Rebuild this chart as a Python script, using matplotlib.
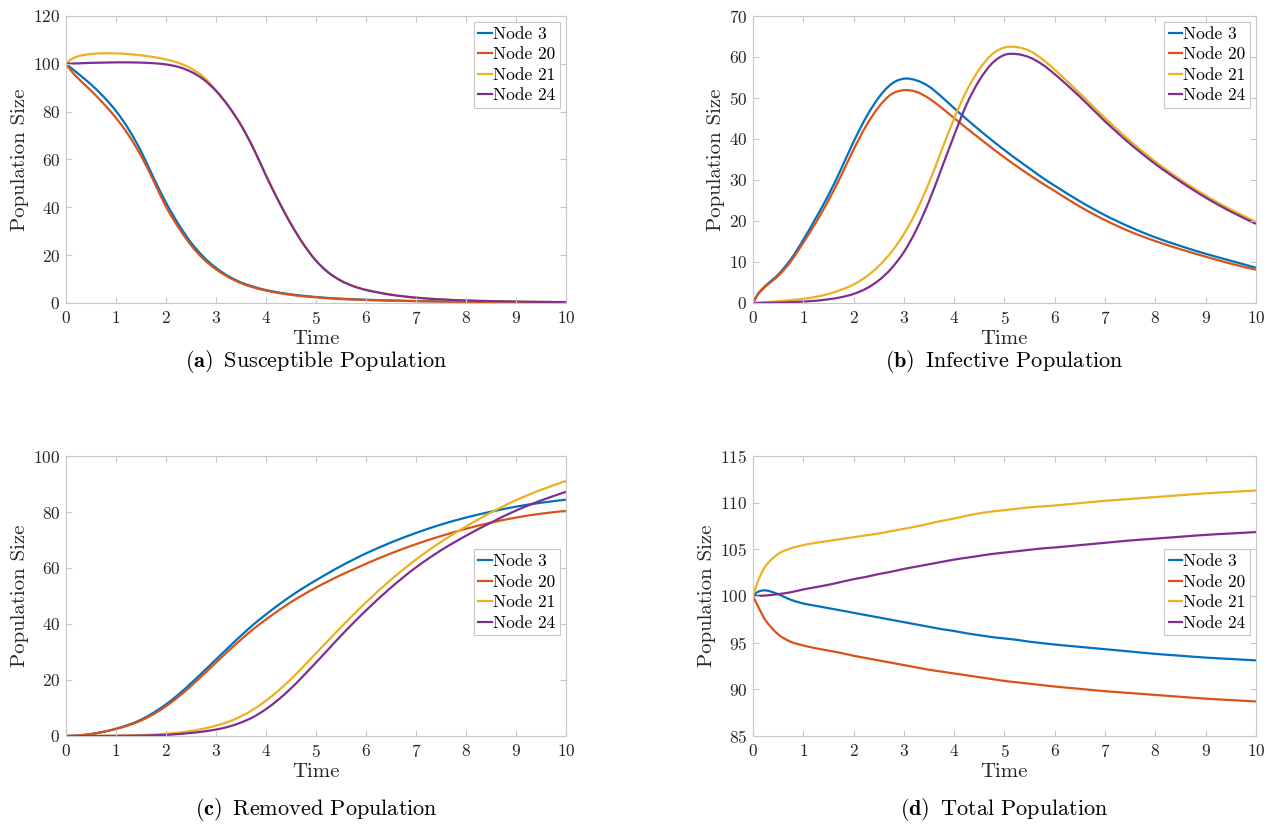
import numpy as np
import matplotlib
matplotlib.use('Agg')
import matplotlib.pyplot as plt
from matplotlib.path import Path
from matplotlib.patches import PathPatch
from matplotlib.lines import Line2D

plt.rcParams['font.family'] = ['cmr10', 'DejaVu Serif']
plt.rcParams['mathtext.fontset'] = 'cm'
plt.rcParams['axes.formatter.use_mathtext'] = True

t = [0, 0.1, 0.25, 0.5, 0.75, 1, 1.25, 1.5, 1.75, 2, 2.25, 2.5, 2.75, 3, 3.25, 3.5, 3.75,
     4, 4.25, 4.5, 4.75, 5, 5.25, 5.5, 5.75, 6, 6.5, 7, 7.5, 8, 8.5, 9, 9.5, 10]

nodes = ['Node 3', 'Node 20', 'Node 21', 'Node 24']
colors = ['#0072BD', '#D95319', '#EDB120', '#7E2F8E']

# (a) susceptible
S_node3 = [100, 98.3, 95.8, 91.4, 86.3, 80.3, 72.8, 63.5, 52.5, 42, 33, 25.3, 19.3, 14.7, 11.2, 8.6, 6.8,
           5.4, 4.4, 3.6, 3.0, 2.5, 2.1, 1.8, 1.55, 1.35, 1.05, 0.82, 0.66, 0.55, 0.47, 0.4, 0.35, 0.3]
S_node20 = [100, 97.2, 93.8, 88.8, 83.4, 77.4, 70.3, 61.6, 51.2, 40.3, 31.6, 24.2, 18.4, 14.1, 10.8, 8.3, 6.5,
            5.2, 4.2, 3.4, 2.8, 2.35, 1.95, 1.65, 1.45, 1.25, 0.97, 0.77, 0.62, 0.52, 0.44, 0.38, 0.33, 0.3]
S_node21 = [100, 101.8, 103.2, 104.1, 104.4, 104.35, 104.05, 103.55, 102.85, 101.85, 100.4, 98.1, 94.5, 89.0,
            82.4, 74.5, 64.8, 53.6, 42.9, 33.2, 24.7, 17.8, 12.8, 9.4, 7.1, 5.5, 3.5, 2.25, 1.5, 1.05, 0.78,
            0.58, 0.46, 0.36]
S_node24 = [100, 100.1, 100.2, 100.4, 100.5, 100.6, 100.6, 100.5, 100.25, 99.75, 98.7, 96.7, 93.5, 88.7,
            82.3, 74.4, 64.6, 53.3, 42.7, 33.0, 24.6, 17.7, 12.7, 9.3, 7.0, 5.45, 3.45, 2.22, 1.5, 1.03, 0.77,
            0.57, 0.45, 0.35]

# (b) infective
I_node3 = [0, 2.2, 4.2, 6.9, 10.6, 15.4, 20.7, 26.3, 32.6, 39.3, 45.3, 50.1, 53.4, 54.7, 54.3, 52.8, 50.3,
           47.5, 44.8, 42.2, 39.7, 37.3, 35, 32.8, 30.6, 28.6, 24.8, 21.4, 18.5, 16.0, 13.9, 12.0, 10.3, 8.6]
I_node20 = [0, 2.1, 4.0, 6.6, 10.1, 14.7, 19.6, 25, 31, 37.4, 43.2, 47.8, 50.9, 51.9, 51.5, 49.9, 47.6,
            45.1, 42.6, 40.2, 37.8, 35.5, 33.3, 31.2, 29.2, 27.3, 23.5, 20.2, 17.4, 15.1, 13.1, 11.3, 9.6, 8.1]
I_node21 = [0, 0.05, 0.2, 0.4, 0.7, 1.0, 1.5, 2.2, 3.2, 4.5, 6.4, 9.0, 12.4, 16.8, 22.4, 29.3, 37.2,
            45.0, 51.8, 57.0, 60.6, 62.3, 62.4, 61.5, 59.5, 56.9, 51.1, 45.1, 39.5, 34.5, 30.1, 26.2, 22.8, 19.8]
I_node24 = [0, 0.0, 0.03, 0.1, 0.2, 0.35, 0.55, 0.9, 1.4, 2.2, 3.5, 5.5, 8.4, 12.4, 17.9, 24.8, 32.8,
            40.9, 48.5, 54.3, 58.4, 60.5, 60.7, 59.9, 58.2, 55.8, 50.3, 44.3, 38.8, 33.9, 29.6, 25.7, 22.3, 19.3]

# (c) removed
R_node3 = [0, 0.05, 0.2, 0.7, 1.5, 2.6, 4.0, 5.8, 8.3, 11.3, 14.8, 18.8, 23, 27.3, 31.6, 35.8, 39.8,
           43.4, 46.8, 50, 52.9, 55.6, 58.2, 60.7, 63, 65.2, 69.1, 72.5, 75.5, 78, 80.1, 81.9, 83.3, 84.4]
R_node20 = [0, 0.05, 0.2, 0.7, 1.5, 2.5, 3.8, 5.5, 7.8, 10.6, 14, 17.8, 22, 26.2, 30.4, 34.4, 38.2,
            41.6, 44.8, 47.8, 50.5, 53, 55.3, 57.5, 59.5, 61.5, 65.2, 68.5, 71.4, 74, 76.2, 78, 79.4, 80.4]
R_node21 = [0, 0, 0, 0.02, 0.05, 0.1, 0.2, 0.3, 0.5, 0.8, 1.2, 1.8, 2.6, 3.7, 5.1, 7, 9.5,
            12.6, 16.2, 20.3, 24.8, 29.5, 34.2, 38.8, 43.3, 47.7, 55.8, 63, 69.3, 74.8, 79.8, 84.2, 87.9, 91.1]
R_node24 = [0, 0, 0, 0.01, 0.02, 0.05, 0.1, 0.15, 0.25, 0.4, 0.7, 1.1, 1.6, 2.3, 3.3, 4.8, 6.8,
            9.6, 13, 17, 21.5, 26.2, 31, 35.8, 40.4, 44.8, 53, 60.2, 66.3, 71.5, 76.2, 80.5, 84.1, 87.2]

# (d) total
N_node3 = [100, 100.45, 100.6, 100.2, 99.6, 99.2, 98.95, 98.7, 98.45, 98.2, 97.95, 97.7, 97.45, 97.2,
           96.95, 96.7, 96.45, 96.25, 96.0, 95.8, 95.6, 95.45, 95.3, 95.1, 94.95, 94.8, 94.55, 94.3,
           94.05, 93.8, 93.6, 93.4, 93.25, 93.1]
N_node20 = [100, 98.9, 97.4, 95.9, 95.1, 94.7, 94.4, 94.15, 93.9, 93.6, 93.35, 93.1, 92.85, 92.6,
            92.35, 92.1, 91.9, 91.7, 91.5, 91.3, 91.1, 90.9, 90.75, 90.6, 90.45, 90.3, 90.05, 89.8,
            89.6, 89.4, 89.2, 89.0, 88.85, 88.7]
N_node21 = [100, 101.6, 103.2, 104.5, 105.1, 105.45, 105.7, 105.9, 106.1, 106.3, 106.5, 106.7, 106.95,
            107.2, 107.45, 107.75, 108.05, 108.3, 108.6, 108.85, 109.05, 109.2, 109.35, 109.5, 109.6,
            109.7, 109.95, 110.2, 110.4, 110.6, 110.8, 111.0, 111.15, 111.3]
N_node24 = [100, 100.02, 100.05, 100.2, 100.4, 100.7, 100.95, 101.2, 101.5, 101.8, 102.05, 102.35,
            102.6, 102.9, 103.15, 103.4, 103.65, 103.9, 104.1, 104.3, 104.5, 104.65, 104.8, 104.95,
            105.1, 105.2, 105.45, 105.7, 105.95, 106.15, 106.35, 106.55, 106.7, 106.85]

panels = [
    ([S_node3, S_node20, S_node21, S_node24], (0, 120), np.arange(0, 121, 20),
     '(a)', 'Susceptible Population', None),
    ([I_node3, I_node20, I_node21, I_node24], (0, 70), np.arange(0, 71, 10),
     '(b)', 'Infective Population', None),
    ([R_node3, R_node20, R_node21, R_node24], (0, 100), np.arange(0, 101, 20),
     '(c)', 'Removed Population', (1.0, 0.688)),
    ([N_node3, N_node20, N_node21, N_node24], (85, 115), np.arange(85, 116, 5),
     '(d)', 'Total Population', (1.0, 0.688)),
]

# axes rectangles in figure fractions
rects = [
    [0.052, 0.6323, 0.3943, 0.3483],
    [0.5938, 0.6323, 0.3967, 0.3483],
    [0.052, 0.1068, 0.3943, 0.3398],
    [0.5938, 0.1068, 0.3967, 0.3398],
]
caption_y = [0.5615, 0.5615, 0.0175, 0.0175]


def smooth_path(x, y):
    # cubic Hermite (Bezier form) through the read points, like a smoothed plot line
    x = np.asarray(x, float)
    y = np.asarray(y, float)
    n = len(x)
    m = np.empty(n)
    m[0] = (y[1] - y[0]) / (x[1] - x[0])
    m[-1] = (y[-1] - y[-2]) / (x[-1] - x[-2])
    m[1:-1] = (y[2:] - y[:-2]) / (x[2:] - x[:-2])
    verts = [(x[0], y[0])]
    codes = [Path.MOVETO]
    for i in range(n - 1):
        h = x[i + 1] - x[i]
        verts += [(x[i] + h / 3, y[i] + m[i] * h / 3),
                  (x[i + 1] - h / 3, y[i + 1] - m[i + 1] * h / 3),
                  (x[i + 1], y[i + 1])]
        codes += [Path.CURVE4] * 3
    return Path(verts, codes)


fig = plt.figure(figsize=(12.68, 8.24), dpi=100)

for (series, ylim, yticks, tag, caption, anchor), rect, cy in zip(panels, rects, caption_y):
    ax = fig.add_axes(rect)
    handles = []
    for vals, name, c in zip(series, nodes, colors):
        ax.add_patch(PathPatch(smooth_path(t, vals), fill=False, edgecolor=c, lw=1.6))
        handles.append(Line2D([], [], color=c, lw=1.6, label=name))
    ax.set_xlim(0, 10)
    ax.set_ylim(*ylim)
    ax.set_xticks(range(0, 11))
    ax.set_yticks(yticks)
    ax.tick_params(direction='in', top=True, right=True, length=4, width=0.8,
                   color='#c8c8c8', labelcolor='#262626', labelsize=12.5)
    ax.tick_params(axis='x', pad=5)
    ax.tick_params(axis='y', pad=4)
    for sp in ax.spines.values():
        sp.set_color('#c8c8c8')
        sp.set_linewidth(0.8)
    ax.set_xlabel('Time', fontsize=15, color='#262626', labelpad=2)
    ax.set_ylabel('Population Size', fontsize=15, color='#262626', labelpad=3)
    leg = ax.legend(handles=handles, loc='upper right', bbox_to_anchor=anchor, fontsize=12.5,
                    handlelength=0.75, handletextpad=0.1, borderpad=0.25, labelspacing=0.3,
                    fancybox=False, framealpha=1, edgecolor='#c8c8c8', borderaxespad=0.35)
    leg.get_frame().set_linewidth(0.8)
    fig.text(rect[0] + rect[2] / 2, cy, r'$\mathbf{' + tag + r'}\,$ ' + caption,
             ha='center', va='center', fontsize=16)

fig.savefig('out.png', dpi=100)
